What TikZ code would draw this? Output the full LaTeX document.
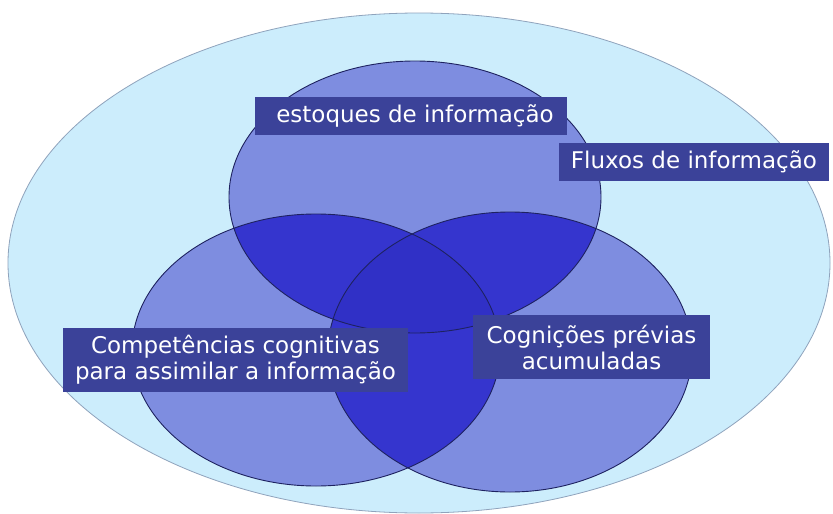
\documentclass[tikz,border=0pt]{standalone}
\usepackage{fontspec}
\newfontfamily\labfont{DejaVu Sans}
\definecolor{bgcyan}{HTML}{CCEDFC}
\definecolor{bgedge}{HTML}{8FA3BC}
\definecolor{single}{HTML}{7E8DE0}
\definecolor{lens}{HTML}{3535CE}
\definecolor{center}{HTML}{3030C6}
\definecolor{circedge}{HTML}{1E2260}
\definecolor{boxc}{HTML}{3B4299}
\tikzset{
  lab/.style={fill=boxc, text=white, inner sep=0pt, align=center,
    font=\labfont\fontsize{23}{26}\selectfont},
  circ/.style={draw=circedge, line width=0.9pt}
}
\begin{document}
\begin{tikzpicture}[x=1pt,y=-1pt]
\useasboundingbox (0,0) rectangle (833,514);
\fill[white] (0,0) rectangle (833,514);
% outer ellipse
\filldraw[fill=bgcyan, draw=bgedge, line width=0.8pt] (419,263) ellipse [x radius=411, y radius=250];
% circles
\def\ctop{(415,197) ellipse [x radius=186, y radius=136]}
\def\cleft{(316,350) ellipse [x radius=184, y radius=136]}
\def\cright{(510,352) ellipse [x radius=182, y radius=140]}
\fill[single] \ctop;
\fill[single] \cleft;
\fill[single] \cright;
\begin{scope}\clip \ctop; \fill[lens] \cleft; \fill[lens] \cright; \end{scope}
\begin{scope}\clip \cleft; \fill[lens] \cright; \end{scope}
\begin{scope}\clip \ctop; \clip \cleft; \fill[center] \cright; \end{scope}
\draw[circ] \ctop;
\draw[circ] \cleft;
\draw[circ] \cright;
% labels
\node[lab, minimum width=312pt, minimum height=38pt] (est) at (411,116) {\hspace*{8pt}estoques de informação};
\node[lab, minimum width=270pt, minimum height=38pt] (flux) at (694,162) {Fluxos de informação};
\node[lab, minimum width=345pt, minimum height=64pt] (comp) at (235.5,360) {Competências cognitivas\\para assimilar a informação};
\node[lab, minimum width=237pt, minimum height=64pt] (cogn) at (591.5,347) {Cognições prévias\\acumuladas};
\end{tikzpicture}
\end{document}
